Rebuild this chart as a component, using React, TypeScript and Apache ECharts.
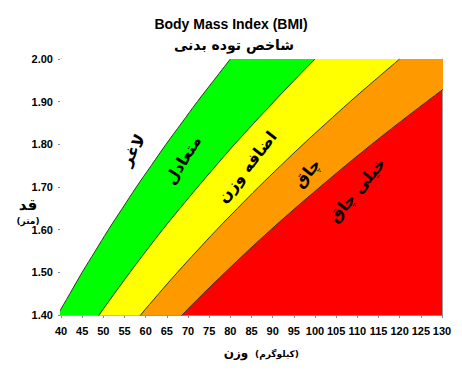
import React, { useEffect, useRef } from "react";
import * as echarts from "echarts";

// Heights (m) at which the BMI boundary curves are read (extended below the axis so fills reach the left edge)
const heights = [1.0, 1.05, 1.1, 1.15, 1.2, 1.25, 1.3, 1.35, 1.4, 1.45, 1.5, 1.55, 1.6, 1.65, 1.7, 1.75, 1.8, 1.85, 1.9, 1.95, 2.0];
// Weights (kg) on each boundary curve at those heights
const weightBmi20 = [20.0, 22.1, 24.2, 26.5, 28.8, 31.3, 33.8, 36.5, 39.2, 42.1, 45.0, 48.1, 51.2, 54.5, 57.8, 61.3, 64.8, 68.5, 72.2, 76.1, 80.0];
const weightBmi25 = [25.0, 27.6, 30.3, 33.1, 36.0, 39.1, 42.3, 45.6, 49.0, 52.6, 56.3, 60.1, 64.0, 68.1, 72.3, 76.6, 81.0, 85.6, 90.3, 95.1, 100.0];
const weightBmi30 = [30.0, 33.1, 36.3, 39.7, 43.2, 46.9, 50.7, 54.7, 58.8, 63.1, 67.5, 72.1, 76.8, 81.7, 86.7, 91.9, 97.2, 102.7, 108.3, 114.1, 120.0];
const weightBmi35 = [35.0, 38.6, 42.4, 46.3, 50.4, 54.7, 59.2, 63.8, 68.6, 73.6, 78.8, 84.1, 89.6, 95.3, 101.2, 107.2, 113.4, 119.8, 126.4, 133.1, 140.0];

const title = "Body Mass Index (BMI)";
const subtitle = "شاخص توده بدنی";
const regionLabels = ["لاغر", "متعادل", "اضافه وزن", "چاق", "خیلی چاق"];

const pairs = (ws: number[]) => ws.map((w, i) => [w, heights[i]]);

export default function App() {
  const ref = useRef<HTMLDivElement>(null);
  useEffect(() => {
    if (!ref.current) return;
    document.body.style.margin = "0";
    const chart = echarts.init(ref.current, null, { renderer: "svg" });
    const fa = "'DejaVu Sans', Tahoma, sans-serif";
    const lab = { fontFamily: "'Liberation Sans', Arial, sans-serif", fontWeight: "bold" as const, fontSize: 11, color: "#000" };
    const mk = (ws: number[], color: string) => ({
      type: "line",
      data: pairs(ws),
      showSymbol: false,
      smooth: 0.4,
      clip: true,
      silent: true,
      lineStyle: { color: "#333", width: 1 },
      areaStyle: { color, opacity: 1, origin: "end" },
    });
    const rot = (deg: number) => (deg * Math.PI) / 180;
    const txt = (text: string, x: number, y: number, size: number, deg = 0, family = fa) => ({
      type: "text",
      x,
      y,
      z: 100,
      rotation: rot(deg),
      style: {
        text,
        fontFamily: family,
        fontWeight: "bold",
        fontSize: size,
        fill: "#000",
        align: "center",
        verticalAlign: "middle",
      },
    });
    chart.setOption({
      animation: false,
      grid: { left: 61, right: 20, top: 59, bottom: 55, show: true, backgroundColor: "#ff0000", borderWidth: 0 },
      xAxis: {
        type: "value",
        min: 40,
        max: 130,
        interval: 5,
        axisLine: { show: true, lineStyle: { color: "#888" } },
        axisTick: { show: true, length: 3, lineStyle: { color: "#888" } },
        splitLine: { show: false },
        axisLabel: { ...lab, margin: 10 },
      },
      yAxis: [
        {
          type: "value",
          min: 1.4,
          max: 2.0,
          interval: 0.1,
          axisLine: { show: true, lineStyle: { color: "#888" } },
          axisTick: { show: true, length: 3, lineStyle: { color: "#888" } },
          splitLine: { show: false },
          axisLabel: { ...lab, margin: 8, formatter: (v: number) => v.toFixed(2) },
        },
        {
          type: "value",
          min: 1.4,
          max: 2.0,
          position: "right",
          axisLine: { show: true, lineStyle: { color: "#999" } },
          axisTick: { show: false },
          axisLabel: { show: false },
          splitLine: { show: false },
        },
      ],
      series: [
        mk(weightBmi35, "#ff9900"),
        mk(weightBmi30, "#ffff00"),
        mk(weightBmi25, "#00ff00"),
        mk(weightBmi20, "#ffffff"),
      ],
      graphic: [
        txt(title, 231, 24, 14, 0, "'Liberation Sans', Arial, sans-serif"),
        txt(subtitle, 234, 45, 14),
        txt("قد", 28, 205, 15),
        txt("(متر)", 28, 221, 9),
        txt("وزن", 236, 353, 12),
        txt("(کیلوگرم)", 277, 354, 9),
        txt(regionLabels[0], 133, 150, 16, 60),
        txt(regionLabels[1], 183, 160, 16, 58),
        txt(regionLabels[2], 247, 167, 16, 52),
        txt(regionLabels[3], 307, 173, 16, 50),
        txt(regionLabels[4], 357, 190, 16, 50),
      ],
    });
    return () => chart.dispose();
  }, []);
  return <div ref={ref} style={{ width: 462, height: 370 }} />;
}
